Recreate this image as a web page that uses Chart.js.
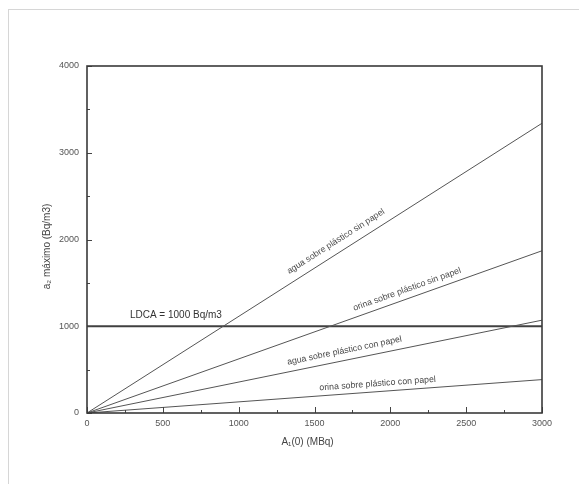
<!DOCTYPE html>
<html>
<head>
<meta charset="utf-8">
<script src="https://cdn.jsdelivr.net/npm/chart.js@4.4.1/dist/chart.umd.min.js"></script>
<style>
  html, body { margin: 0; padding: 0; background: #fff; }
  #wrap { position: relative; width: 579px; height: 484px; overflow: hidden; background: #fff; }
  #frame { position: absolute; left: 8px; top: 9px; width: 700px; height: 700px;
           border-left: 1px solid #d6d6d6; border-top: 1px solid #d6d6d6; }
  #c { position: absolute; left: 0; top: 0; }
</style>
</head>
<body>
<div id="wrap">
  <div id="frame"></div>
  <canvas id="c" width="579" height="484"></canvas>
</div>
<script>
// ---- data ----
const xPoints = [0, 3000];                 // A1(0) in MBq
const aguaSinPapel  = [0, 3340];           // a2 max (Bq/m3)
const orinaSinPapel = [0, 1870];
const aguaConPapel  = [0, 1070];
const orinaConPapel = [0, 385];
const ldcaLevel     = [1000, 1000];
const seriesNames = [
  'agua sobre plástico sin papel',
  'orina sobre plástico sin papel',
  'agua sobre plástico con papel',
  'orina sobre plástico con papel'
];
const ldcaLabel = 'LDCA = 1000 Bq/m3';
const xTickValues = [0, 500, 1000, 1500, 2000, 2500, 3000];
const yTickValues = [0, 1000, 2000, 3000, 4000];
const xTitle = 'A\u2081(0) (MBq)';
const yTitle = 'a\u2082 máximo (Bq/m3)';

const toPts = arr => xPoints.map((x, i) => ({ x: x, y: arr[i] }));

// label placement along each line: x anchor (data units) and perpendicular offset (px)
const labelPlacement = [
  { x: 1680, off: 11 },
  { x: 2130, off: 9 },
  { x: 1710, off: 9.5 },
  { x: 1920, off: 8 }
];

const FONT = "'Liberation Sans', Arial, Helvetica, sans-serif";

const framePlugin = {
  id: 'framePlugin',
  afterDatasetsDraw(chart) {
    const { ctx, chartArea: a, scales: { x, y } } = chart;
    ctx.save();
    // inward tick marks
    ctx.strokeStyle = '#444';
    ctx.lineWidth = 1;
    for (let v = 0; v <= 3000; v += 250) {
      const px = Math.round(x.getPixelForValue(v)) + 0.5;
      const len = (v % 500 === 0) ? 6 : 3;
      ctx.beginPath(); ctx.moveTo(px, a.bottom); ctx.lineTo(px, a.bottom - len); ctx.stroke();
    }
    for (let v = 0; v <= 4000; v += 500) {
      const py = Math.round(y.getPixelForValue(v)) + 0.5;
      const len = (v % 1000 === 0) ? 5 : 3;
      ctx.beginPath(); ctx.moveTo(a.left, py); ctx.lineTo(a.left + len, py); ctx.stroke();
    }
    // box
    ctx.strokeStyle = '#3a3a3a';
    ctx.lineWidth = 1.6;
    ctx.strokeRect(a.left, a.top, a.right - a.left, a.bottom - a.top);

    // line labels
    ctx.fillStyle = '#4a4a4a';
    ctx.font = '8.8px ' + FONT;
    ctx.textAlign = 'center';
    ctx.textBaseline = 'middle';
    const sets = [aguaSinPapel, orinaSinPapel, aguaConPapel, orinaConPapel];
    sets.forEach((arr, i) => {
      const x0 = x.getPixelForValue(xPoints[0]), y0 = y.getPixelForValue(arr[0]);
      const x1 = x.getPixelForValue(xPoints[1]), y1 = y.getPixelForValue(arr[1]);
      const ang = Math.atan2(y1 - y0, x1 - x0);
      const p = labelPlacement[i];
      const px = x.getPixelForValue(p.x);
      const py = y0 + (y1 - y0) * (px - x0) / (x1 - x0);
      ctx.save();
      ctx.translate(px + Math.sin(ang) * p.off, py - Math.cos(ang) * p.off);
      ctx.rotate(ang);
      ctx.fillText(seriesNames[i], 0, 0);
      ctx.restore();
    });
    // LDCA label
    ctx.fillStyle = '#333';
    ctx.font = '10px ' + FONT;
    ctx.textAlign = 'left';
    ctx.fillText(ldcaLabel, x.getPixelForValue(283), y.getPixelForValue(ldcaLevel[0]) - 11);
    ctx.restore();
  }
};

const lineDs = (arr, color, w) => ({
  data: toPts(arr), showLine: true, pointRadius: 0, borderColor: color,
  borderWidth: w, fill: false, tension: 0
});

new Chart(document.getElementById('c'), {
  type: 'scatter',
  data: {
    datasets: [
      lineDs(aguaSinPapel, '#555', 1),
      lineDs(orinaSinPapel, '#555', 1),
      lineDs(aguaConPapel, '#555', 1),
      lineDs(orinaConPapel, '#555', 1),
      lineDs(ldcaLevel, '#404040', 1.8)
    ]
  },
  options: {
    responsive: false,
    animation: false,
    devicePixelRatio: 1,
    layout: { padding: { top: 66, right: 37, left: 0, bottom: 0 } },
    plugins: { legend: { display: false }, tooltip: { enabled: false } },
    scales: {
      x: {
        type: 'linear', position: 'bottom', min: 0, max: 3000,
        afterFit: s => { s.height = 71; },
        afterBuildTicks: s => { s.ticks = xTickValues.map(v => ({ value: v })); },
        grid: { display: false, drawTicks: false },
        border: { display: false },
        ticks: { padding: 5, color: '#555', font: { family: FONT, size: 9 }, maxRotation: 0,
                 autoSkip: false, callback: v => String(v) },
        title: { display: true, text: xTitle + '     ', color: '#444',
                 font: { family: FONT, size: 10 }, padding: { top: 0, bottom: 36 } }
      },
      y: {
        type: 'linear', position: 'left', min: 0, max: 4000,
        afterFit: s => { s.width = 87; },
        afterBuildTicks: s => { s.ticks = yTickValues.map(v => ({ value: v })); },
        grid: { display: false, drawTicks: false },
        border: { display: false },
        ticks: { padding: 8, color: '#555', font: { family: FONT, size: 9 },
                 autoSkip: false, callback: v => String(v) },
        title: { display: true, text: yTitle + '     ', color: '#444',
                 font: { family: FONT, size: 10 }, padding: { top: 41, bottom: 0 } }
      }
    }
  },
  plugins: [framePlugin]
});
</script>
</body>
</html>
